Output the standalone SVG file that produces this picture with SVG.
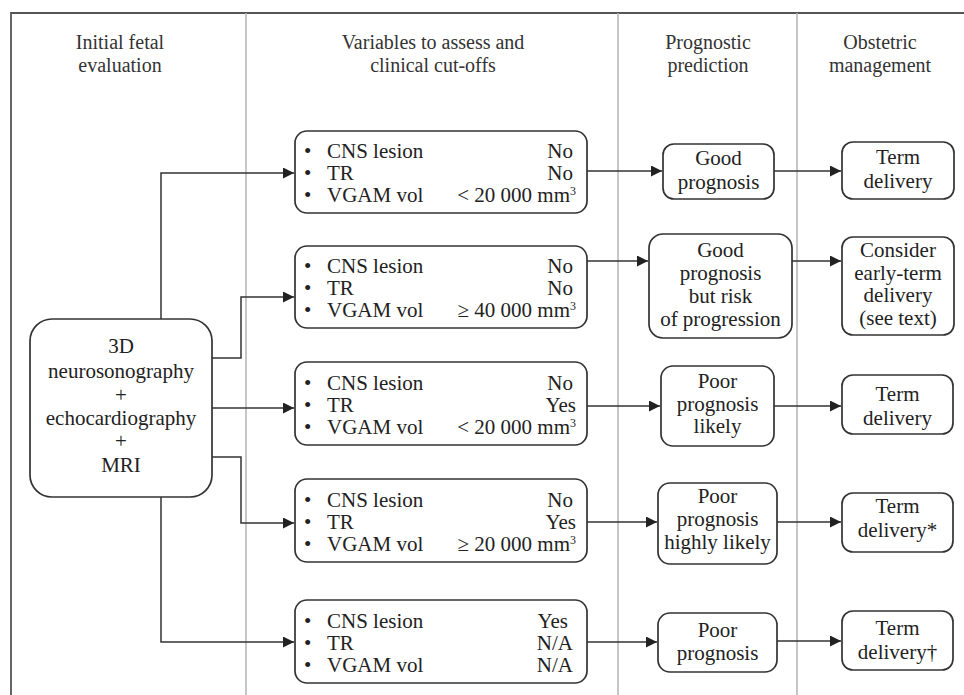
<svg xmlns="http://www.w3.org/2000/svg" width="964" height="695" viewBox="0 0 964 695">
<style>
text{font-family:"Liberation Serif","Times New Roman",serif;fill:#222;}
.h{font-size:20px;text-anchor:middle;fill:#333;}
.c{font-size:21px;text-anchor:middle;}
.l{font-size:21px;}
.v{font-size:21px;text-anchor:end;}
.sup{font-size:12px;}
.box{fill:#fff;stroke:#333;stroke-width:1.7;}
.div{stroke:#b4b4b4;stroke-width:1.5;fill:none;}
.frame{stroke:#555;stroke-width:1.8;fill:none;}
.con{stroke:#333;stroke-width:1.5;fill:none;}
</style>
<defs>
<marker id="arr" markerUnits="userSpaceOnUse" markerWidth="11" markerHeight="11" refX="11" refY="5.5" orient="auto">
<path d="M0,0 L11,5.5 L0,11 z" fill="#222"/>
</marker>
</defs>
<rect width="964" height="695" fill="#fff"/>
<g id="frame">
<path class="frame" d="M11,695 V13 H964"/>
<path class="div" d="M246,13 V695 M618,13 V695 M797,13 V695"/>
</g>
<g id="headers">
<text class="h" x="120" y="49">Initial fetal</text>
<text class="h" x="120" y="72">evaluation</text>
<text class="h" x="433" y="49">Variables to assess and</text>
<text class="h" x="433" y="72">clinical cut-offs</text>
<text class="h" x="708" y="49">Prognostic</text>
<text class="h" x="708" y="72">prediction</text>
<text class="h" x="880" y="49">Obstetric</text>
<text class="h" x="880" y="72">management</text>
</g>
<g id="connectors">
<path class="con" marker-end="url(#arr)" d="M161,319 V173 H294"/>
<path class="con" marker-end="url(#arr)" d="M212,358 H241 V297 H294"/>
<path class="con" marker-end="url(#arr)" d="M212,408 H294"/>
<path class="con" marker-end="url(#arr)" d="M212,457 H241 V523 H294"/>
<path class="con" marker-end="url(#arr)" d="M161,497 V642 H294"/>
<path class="con" marker-end="url(#arr)" d="M587,171 H662"/>
<path class="con" marker-end="url(#arr)" d="M587,261 H648"/>
<path class="con" marker-end="url(#arr)" d="M587,406 H660"/>
<path class="con" marker-end="url(#arr)" d="M587,522 H657"/>
<path class="con" marker-end="url(#arr)" d="M587,642 H657"/>
<path class="con" marker-end="url(#arr)" d="M774,171 H841"/>
<path class="con" marker-end="url(#arr)" d="M792,261 H841"/>
<path class="con" marker-end="url(#arr)" d="M774,406 H841"/>
<path class="con" marker-end="url(#arr)" d="M777,522 H841"/>
<path class="con" marker-end="url(#arr)" d="M777,641 H841"/>
</g>
<g id="eval">
<rect class="box" x="30" y="319" width="182" height="178" rx="22"/>
<text class="c" x="121" y="353">3D</text>
<text class="c" x="121" y="378">neurosonography</text>
<text class="c" x="121" y="402">+</text>
<text class="c" x="121" y="425">echocardiography</text>
<text class="c" x="121" y="448">+</text>
<text class="c" x="121" y="472">MRI</text>
</g>
<g id="var1">
<rect class="box" x="295" y="131" width="292" height="82" rx="12"/>
<text class="l" x="304" y="158">•</text><text class="l" x="327" y="158">CNS lesion</text><text class="v" x="573" y="158">No</text>
<text class="l" x="304" y="180">•</text><text class="l" x="327" y="180">TR</text><text class="v" x="573" y="180">No</text>
<text class="l" x="304" y="202">•</text><text class="l" x="327" y="202">VGAM vol</text><text class="v" x="576" y="202">&lt; 20 000 mm<tspan class="sup" dy="-7">3</tspan></text>
</g>
<g id="var2">
<rect class="box" x="295" y="246" width="292" height="82" rx="12"/>
<text class="l" x="304" y="273">•</text><text class="l" x="327" y="273">CNS lesion</text><text class="v" x="573" y="273">No</text>
<text class="l" x="304" y="295">•</text><text class="l" x="327" y="295">TR</text><text class="v" x="573" y="295">No</text>
<text class="l" x="304" y="317">•</text><text class="l" x="327" y="317">VGAM vol</text><text class="v" x="576" y="317">≥ 40 000 mm<tspan class="sup" dy="-7">3</tspan></text>
</g>
<g id="var3">
<rect class="box" x="295" y="362" width="292" height="83" rx="12"/>
<text class="l" x="304" y="390">•</text><text class="l" x="327" y="390">CNS lesion</text><text class="v" x="573" y="390">No</text>
<text class="l" x="304" y="412">•</text><text class="l" x="327" y="412">TR</text><text class="v" x="576" y="412">Yes</text>
<text class="l" x="304" y="434">•</text><text class="l" x="327" y="434">VGAM vol</text><text class="v" x="576" y="434">&lt; 20 000 mm<tspan class="sup" dy="-7">3</tspan></text>
</g>
<g id="var4">
<rect class="box" x="295" y="479" width="292" height="83" rx="12"/>
<text class="l" x="304" y="507">•</text><text class="l" x="327" y="507">CNS lesion</text><text class="v" x="573" y="507">No</text>
<text class="l" x="304" y="529">•</text><text class="l" x="327" y="529">TR</text><text class="v" x="576" y="529">Yes</text>
<text class="l" x="304" y="551">•</text><text class="l" x="327" y="551">VGAM vol</text><text class="v" x="576" y="551">≥ 20 000 mm<tspan class="sup" dy="-7">3</tspan></text>
</g>
<g id="var5">
<rect class="box" x="295" y="600" width="292" height="83" rx="12"/>
<text class="l" x="304" y="628">•</text><text class="l" x="327" y="628">CNS lesion</text><text class="v" x="568" y="628">Yes</text>
<text class="l" x="304" y="650">•</text><text class="l" x="327" y="650">TR</text><text class="v" x="573" y="650">N/A</text>
<text class="l" x="304" y="672">•</text><text class="l" x="327" y="672">VGAM vol</text><text class="v" x="573" y="672">N/A</text>
</g>
<g id="prog1">
<rect class="box" x="663" y="144" width="111" height="55" rx="11"/>
<text class="c" x="718.5" y="165">Good</text>
<text class="c" x="718.5" y="189">prognosis</text>
</g>
<g id="prog2">
<rect class="box" x="649" y="234" width="143" height="104" rx="14"/>
<text class="c" x="720.5" y="257">Good</text>
<text class="c" x="720.5" y="280">prognosis</text>
<text class="c" x="720.5" y="303">but risk</text>
<text class="c" x="720.5" y="326">of progression</text>
</g>
<g id="prog3">
<rect class="box" x="661" y="366" width="113" height="80" rx="12"/>
<text class="c" x="717.5" y="388">Poor</text>
<text class="c" x="717.5" y="411">prognosis</text>
<text class="c" x="717.5" y="433">likely</text>
</g>
<g id="prog4">
<rect class="box" x="658" y="483" width="119" height="81" rx="12"/>
<text class="c" x="717.5" y="503">Poor</text>
<text class="c" x="717.5" y="526">prognosis</text>
<text class="c" x="717.5" y="549">highly likely</text>
</g>
<g id="prog5">
<rect class="box" x="658" y="613" width="119" height="59" rx="12"/>
<text class="c" x="717.5" y="637">Poor</text>
<text class="c" x="717.5" y="660">prognosis</text>
</g>
<g id="mgmt1">
<rect class="box" x="842" y="142" width="112" height="57" rx="11"/>
<text class="c" x="898" y="164">Term</text>
<text class="c" x="898" y="188">delivery</text>
</g>
<g id="mgmt2">
<rect class="box" x="842" y="237" width="112" height="98" rx="11"/>
<text class="c" x="898" y="257">Consider</text>
<text class="c" x="898" y="280">early-term</text>
<text class="c" x="898" y="302">delivery</text>
<text class="c" x="898" y="325">(see text)</text>
</g>
<g id="mgmt3">
<rect class="box" x="842" y="375" width="111" height="59" rx="11"/>
<text class="c" x="897.5" y="401">Term</text>
<text class="c" x="897.5" y="425">delivery</text>
</g>
<g id="mgmt4">
<rect class="box" x="842" y="493" width="111" height="59" rx="11"/>
<text class="c" x="897.5" y="513">Term</text>
<text class="c" x="897.5" y="537">delivery*</text>
</g>
<g id="mgmt5">
<rect class="box" x="842" y="611" width="111" height="59" rx="11"/>
<text class="c" x="897.5" y="635">Term</text>
<text class="c" x="897.5" y="659">delivery†</text>
</g>
</svg>
